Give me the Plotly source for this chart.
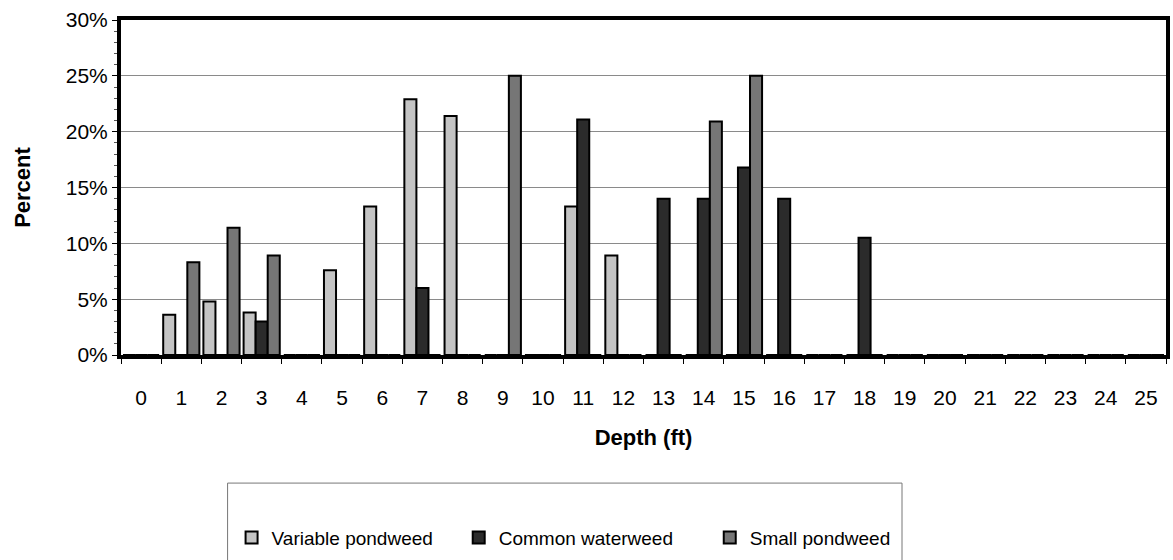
import plotly.graph_objects as go

# Depth classes (ft)
depths = [str(d) for d in range(26)]

# Percent of sample points at each depth where the species was found
variable_pondweed = [0, 0.036, 0.048, 0.038, 0, 0.076, 0.133, 0.229, 0.214, 0,
                     0, 0.133, 0.089, 0, 0, 0, 0, 0, 0, 0,
                     0, 0, 0, 0, 0, 0]
common_waterweed = [0, 0, 0, 0.030, 0, 0, 0, 0.060, 0, 0,
                    0, 0.211, 0, 0.140, 0.140, 0.168, 0.140, 0, 0.105, 0,
                    0, 0, 0, 0, 0, 0]
small_pondweed = [0, 0.083, 0.114, 0.089, 0, 0, 0, 0, 0, 0.250,
                  0, 0, 0, 0, 0.209, 0.250, 0, 0, 0, 0,
                  0, 0, 0, 0, 0, 0]

series = [
    ("Variable pondweed", variable_pondweed, "#c4c4c4", "legend"),
    ("Common waterweed", common_waterweed, "#2b2b2b", "legend2"),
    ("Small pondweed", small_pondweed, "#767676", "legend3"),
]

FONT = "Liberation Sans, Arial, sans-serif"

fig = go.Figure()
for name, vals, color, lg in series:
    fig.add_trace(go.Bar(
        x=depths, y=vals, name=name, legend=lg,
        marker=dict(color=color, line=dict(color="black", width=2)),
    ))

W, H = 1173, 560
L, R, T, B = 121, 3, 20, 200
pw, ph = W - L - R, H - T - B


def px_x(x):
    return (x - L) / pw


def px_y(y):
    return (H - B - y) / ph


def legend_box(x_px):
    return dict(
        orientation="h",
        x=px_x(x_px), xanchor="left",
        y=px_y(526), yanchor="top",
        font=dict(family=FONT, size=19, color="black"),
        bgcolor="rgba(0,0,0,0)",
        itemwidth=30,
    )


fig.update_layout(
    width=W, height=H,
    margin=dict(l=L, r=R, t=T, b=B),
    paper_bgcolor="white", plot_bgcolor="white",
    barmode="group", bargap=0.1, bargroupgap=0,
    font=dict(family=FONT, size=21, color="black"),
    showlegend=True,
    legend=legend_box(232),
    legend2=legend_box(460),
    legend3=legend_box(712),
    xaxis=dict(
        type="category",
        tickson="boundaries",
        ticks="outside", ticklen=5, tickcolor="black", tickwidth=1,
        ticklabelstandoff=21,
        showline=True, linecolor="black", linewidth=4, mirror=True,
        showgrid=False,
        tickfont=dict(family=FONT, size=21),
        title=dict(text="<b>Depth (ft)</b>", font=dict(family=FONT, size=22), standoff=22),
    ),
    yaxis=dict(
        range=[0, 0.30], dtick=0.05, tickformat=".0%",
        ticks="outside", ticklen=5, tickcolor="black",
        showline=True, linecolor="black", linewidth=4, mirror=True,
        showgrid=True, gridcolor="#8a8a8a", gridwidth=1,
        zeroline=False,
        tickfont=dict(family=FONT, size=21),
        minor=dict(dtick=0.01, ticks="outside", ticklen=3, tickcolor="#555", showgrid=False),
        title=dict(text="<b>Percent</b>", font=dict(family=FONT, size=22), standoff=30),
    ),
    shapes=[dict(
        type="rect", xref="paper", yref="paper",
        x0=px_x(228), x1=px_x(905), y0=px_y(600), y1=px_y(490),
        line=dict(color="#777", width=1),
    )],
)

fig.write_html("out.html")
